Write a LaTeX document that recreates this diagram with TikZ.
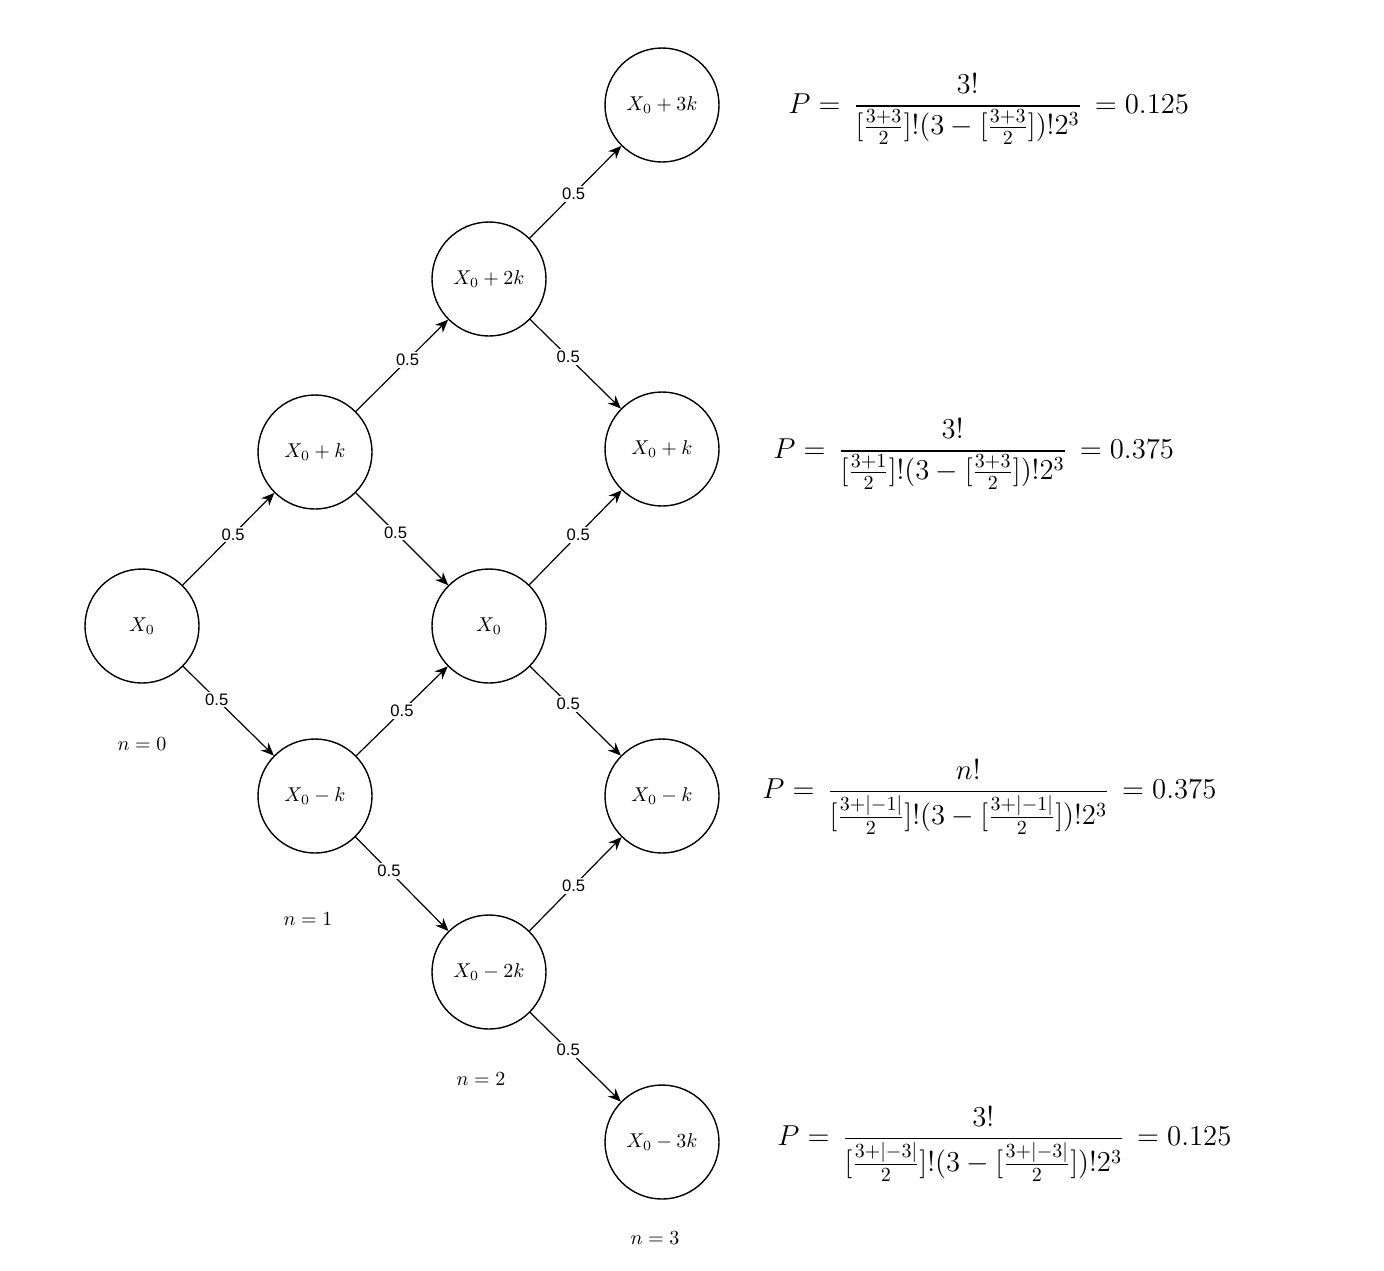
\documentclass[tikz,border=0pt]{standalone}
\usepackage{fontspec}
\usepackage{amsmath}
\newfontfamily\labelfont{Liberation Sans}
\usetikzlibrary{arrows.meta}

\begin{document}
\begin{tikzpicture}[x=0.5pt,y=-0.5pt,
	state/.style={circle,draw,line width=0.7pt,minimum size=57pt,inner sep=0pt},
	edge/.style={-{Stealth[length=6.5pt,width=5.5pt]},line width=0.6pt},
	prob/.style={font=\labelfont\fontsize{8.3}{10}\selectfont,fill=white,inner sep=1pt},
	formula/.style={anchor=west,inner sep=0pt,font=\fontsize{14.4}{17}\selectfont}]
	\useasboundingbox (0,0) rectangle (1384,1270);

	% States at each step
	\node[state] (S0) at (142,626) {$X_0$};
	\node[state] (P1) at (315,452) {$X_0+k$};
	\node[state] (M1) at (315,796) {$X_0-k$};
	\node[state] (P2) at (489,279) {$X_0+2k$};
	\node[state] (Z2) at (489,626) {$X_0$};
	\node[state] (M2) at (489,972) {$X_0-2k$};
	\node[state] (P3) at (662,105) {$X_0+3k$};
	\node[state] (Q3) at (662,449) {$X_0+k$};
	\node[state] (R3) at (662,796) {$X_0-k$};
	\node[state] (M3) at (662,1142) {$X_0-3k$};

	% Step labels
	\node (N0) at (142,744) {$n=0$};
	\node (N1) at (308,919) {$n=1$};
	\node (N2) at (481,1079) {$n=2$};
	\node (N3) at (655,1238) {$n=3$};

	% Transitions
	\draw[edge] (S0) -- node[prob,pos=0.55] {0.5} (P1);
	\draw[edge] (S0) -- node[prob,pos=0.37] {0.5} (M1);
	\draw[edge] (P1) -- node[prob,pos=0.56] {0.5} (P2);
	\draw[edge] (P1) -- node[prob,pos=0.43] {0.5} (Z2);
	\draw[edge] (M1) -- node[prob,pos=0.5] {0.5} (Z2);
	\draw[edge] (M1) -- node[prob,pos=0.36] {0.5} (M2);
	\draw[edge] (P2) -- node[prob,pos=0.48] {0.5} (P3);
	\draw[edge] (P2) -- node[prob,pos=0.42] {0.5} (Q3);
	\draw[edge] (Z2) -- node[prob,pos=0.53] {0.5} (Q3);
	\draw[edge] (Z2) -- node[prob,pos=0.42] {0.5} (R3);
	\draw[edge] (M2) -- node[prob,pos=0.48] {0.5} (R3);
	\draw[edge] (M2) -- node[prob,pos=0.42] {0.5} (M3);

	% Probabilities of the final states
	\node[formula] (F1) at (788,109) {$\displaystyle P=\,\frac{3!}{[\frac{3+3}{2}]!(3-[\frac{3+3}{2}])!2^3}\,=0.125$};
	\node[formula] (F2) at (773,454) {$\displaystyle P=\,\frac{3!}{[\frac{3+1}{2}]!(3-[\frac{3+3}{2}])!2^3}\,=0.375$};
	\node[formula] (F3) at (762,797) {$\displaystyle P=\,\frac{n!}{[\frac{3+|-1|}{2}]!(3-[\frac{3+|-1|}{2}])!2^3}\,=0.375$};
	\node[formula] (F4) at (777,1144) {$\displaystyle P=\,\frac{3!}{[\frac{3+|-3|}{2}]!(3-[\frac{3+|-3|}{2}])!2^3}\,=0.125$};
\end{tikzpicture}
\end{document}
